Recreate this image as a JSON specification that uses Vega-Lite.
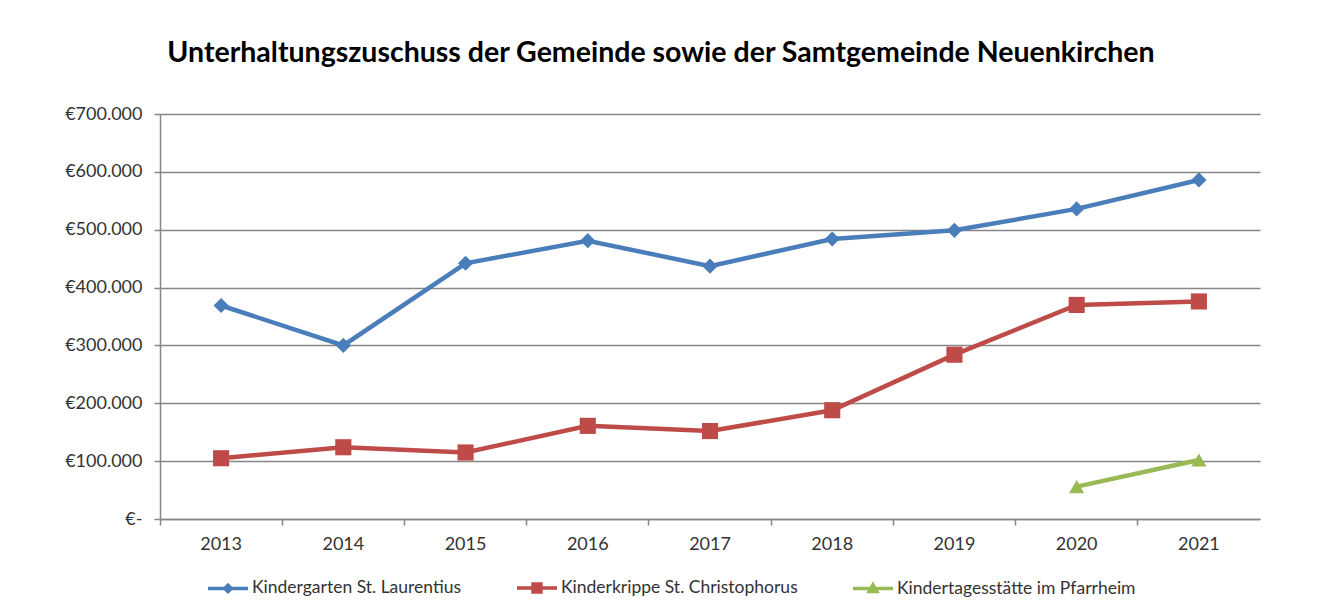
{
  "$schema": "https://vega.github.io/schema/vega-lite/v6.json",
  "width": 1100,
  "height": 405,
  "autosize": "none",
  "padding": {"left": 160, "top": 114, "right": 80, "bottom": 92},
  "background": "white",
  "config": {"font": "Lato", "view": {"stroke": null}},
  "title": {
    "text": "Unterhaltungszuschuss der Gemeinde sowie der Samtgemeinde Neuenkirchen",
    "fontSize": 28.5, "fontWeight": "bold", "color": "#000", "anchor": "middle", "offset": 38, "dx": -49
  },
  "data": {"values": [
    {"Jahr": "2013", "Einrichtung": "Kindergarten St. Laurentius", "Betrag": 369000},
    {"Jahr": "2014", "Einrichtung": "Kindergarten St. Laurentius", "Betrag": 300000},
    {"Jahr": "2015", "Einrichtung": "Kindergarten St. Laurentius", "Betrag": 442000},
    {"Jahr": "2016", "Einrichtung": "Kindergarten St. Laurentius", "Betrag": 481000},
    {"Jahr": "2017", "Einrichtung": "Kindergarten St. Laurentius", "Betrag": 437000},
    {"Jahr": "2018", "Einrichtung": "Kindergarten St. Laurentius", "Betrag": 484000},
    {"Jahr": "2019", "Einrichtung": "Kindergarten St. Laurentius", "Betrag": 499000},
    {"Jahr": "2020", "Einrichtung": "Kindergarten St. Laurentius", "Betrag": 536000},
    {"Jahr": "2021", "Einrichtung": "Kindergarten St. Laurentius", "Betrag": 586000},
    {"Jahr": "2013", "Einrichtung": "Kinderkrippe St. Christophorus", "Betrag": 105000},
    {"Jahr": "2014", "Einrichtung": "Kinderkrippe St. Christophorus", "Betrag": 124000},
    {"Jahr": "2015", "Einrichtung": "Kinderkrippe St. Christophorus", "Betrag": 115000},
    {"Jahr": "2016", "Einrichtung": "Kinderkrippe St. Christophorus", "Betrag": 161000},
    {"Jahr": "2017", "Einrichtung": "Kinderkrippe St. Christophorus", "Betrag": 152000},
    {"Jahr": "2018", "Einrichtung": "Kinderkrippe St. Christophorus", "Betrag": 188000},
    {"Jahr": "2019", "Einrichtung": "Kinderkrippe St. Christophorus", "Betrag": 284000},
    {"Jahr": "2020", "Einrichtung": "Kinderkrippe St. Christophorus", "Betrag": 370000},
    {"Jahr": "2021", "Einrichtung": "Kinderkrippe St. Christophorus", "Betrag": 376000},
    {"Jahr": "2020", "Einrichtung": "Kindertagesstätte im Pfarrheim", "Betrag": 56000},
    {"Jahr": "2021", "Einrichtung": "Kindertagesstätte im Pfarrheim", "Betrag": 102000}
  ]},
  "encoding": {
    "x": {
      "field": "Jahr", "type": "ordinal",
      "scale": {"type": "band", "paddingInner": 0, "paddingOuter": 0},
      "axis": {
        "title": null, "labelAngle": 0, "bandPosition": 0, "grid": false,
        "domainColor": "#868686", "domainWidth": 1.5, "tickColor": "#868686", "tickWidth": 1.5, "tickSize": 6,
        "labelFontSize": 18, "labelColor": "#333", "labelPadding": 10
      }
    },
    "y": {
      "field": "Betrag", "type": "quantitative",
      "scale": {"domain": [0, 700000], "nice": false},
      "axis": {
        "title": null, "values": [0, 100000, 200000, 300000, 400000, 500000, 600000, 700000],
        "labelExpr": "datum.value == 0 ? '€-' : '€' + replace(format(datum.value, ',.0f'), ',', '.')",
        "gridColor": "#868686", "gridWidth": 1.5, "domainColor": "#868686", "domainWidth": 1.5,
        "tickColor": "#868686", "tickWidth": 1.5, "tickSize": 6,
        "labelFontSize": 18, "labelColor": "#333", "labelPadding": 12
      }
    },
    "color": {
      "field": "Einrichtung", "type": "nominal",
      "scale": {
        "domain": ["Kindergarten St. Laurentius", "Kinderkrippe St. Christophorus", "Kindertagesstätte im Pfarrheim"],
        "range": ["#4a7ebb", "#be4b48", "#98b954"]
      },
      "legend": {
        "title": null, "orient": "none", "direction": "horizontal", "legendX": 46, "legendY": 452,
        "labelFontSize": 17.5, "labelColor": "#333", "labelLimit": 400, "symbolSize": 1600, "columnPadding": 48, "labelOffset": 2,
        "encode": {
          "symbols": {"update": {
            "shape": {"signal": "datum.value === 'Kindergarten St. Laurentius' ? 'M-1,0H1M0,-0.16L0.16,0L0,0.16L-0.16,0Z' : datum.value === 'Kinderkrippe St. Christophorus' ? 'M-1,0H1M-0.2,-0.2H0.2V0.2H-0.2Z' : 'M-1,0H1M0,-0.19L0.19,0.14H-0.19Z'"},
            "fill": {"signal": "datum.value === 'Kindergarten St. Laurentius' ? '#4a7ebb' : datum.value === 'Kinderkrippe St. Christophorus' ? '#be4b48' : '#98b954'"},
            "stroke": {"signal": "datum.value === 'Kindergarten St. Laurentius' ? '#4a7ebb' : datum.value === 'Kinderkrippe St. Christophorus' ? '#be4b48' : '#98b954'"},
            "strokeWidth": {"value": 3.5},
            "opacity": {"value": 1}
          }}
        }
      }
    }
  },
  "layer": [
    {"mark": {"type": "line", "strokeWidth": 4.5}},
    {
      "transform": [{"filter": "datum.Einrichtung === 'Kindergarten St. Laurentius'"}],
      "mark": {"type": "point", "filled": true, "opacity": 1, "shape": "diamond", "size": 230}
    },
    {
      "transform": [{"filter": "datum.Einrichtung === 'Kinderkrippe St. Christophorus'"}],
      "mark": {"type": "point", "filled": true, "opacity": 1, "shape": "square", "size": 260}
    },
    {
      "transform": [{"filter": "datum.Einrichtung === 'Kindertagesstätte im Pfarrheim'"}],
      "mark": {"type": "point", "filled": true, "opacity": 1, "shape": "triangle-up", "size": 230}
    }
  ]
}
